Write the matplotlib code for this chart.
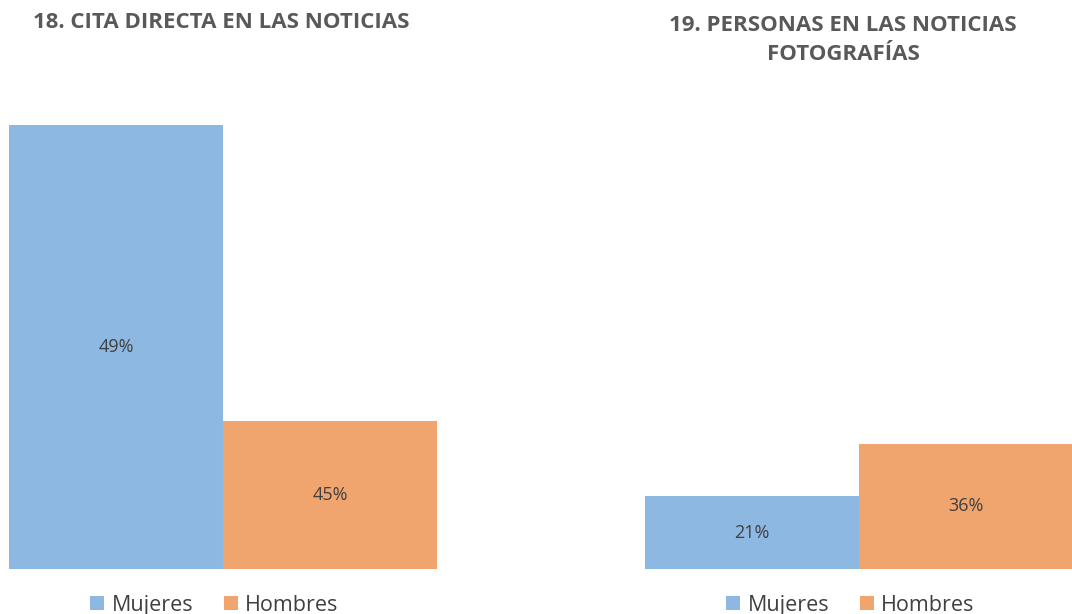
import matplotlib.pyplot as plt

plt.rcParams['font.family'] = ['Open Sans', 'DejaVu Sans']

series = ['Mujeres', 'Hombres']
colors = ['#8db8e2', '#f0a46e']

cita_values = [49, 45]
cita_labels = ['49%', '45%']
fotos_values = [21, 36]
fotos_labels = ['21%', '36%']

titles = ['18. CITA DIRECTA EN LAS NOTICIAS', '19. PERSONAS EN LAS NOTICIAS\nFOTOGRAFÍAS']

W, H = 1072, 614
fig = plt.figure(figsize=(W / 100, H / 100), dpi=100)

# axes placed in pixel coordinates to follow the reference layout
def add_axes(x0, x1, y_top, y_bottom):
    return fig.add_axes([x0 / W, (H - y_bottom) / H, (x1 - x0) / W, (y_bottom - y_top) / H])

ax1 = add_axes(9, 437, 88, 569)
ax2 = add_axes(645, 1073, 88, 569)

panels = [
    (ax1, cita_values, cita_labels, (43, 49.5)),
    (ax2, fotos_values, fotos_labels, (0, 138.5)),
]

for ax, vals, labs, ylim in panels:
    base = ylim[0]
    for i, (v, c, name) in enumerate(zip(vals, colors, series)):
        ax.bar(i, v - base, bottom=base, width=1.0, color=c, label=name)
        ax.text(i, base + (v - base) / 2, labs[i], ha='center', va='center',
                fontsize=13, color='#404040')
    ax.set_xlim(-0.5, 1.5)
    ax.set_ylim(*ylim)
    ax.axis('off')
    ax.legend(loc='center', bbox_to_anchor=(0.48, -0.075), ncol=2, frameon=False,
              fontsize=15.5, handlelength=0.65, handleheight=0.65, handletextpad=0.35,
              columnspacing=1.4, labelcolor='#404040', borderpad=0)

fig.text(221 / W, 1 - 23 / H, titles[0], ha='center', va='center',
         fontsize=16, fontweight='bold', color='#595959')
fig.text(843 / W, 1 - 40 / H, titles[1], ha='center', va='center',
         fontsize=16, fontweight='bold', color='#595959', linespacing=1.55)

fig.savefig('out.png', dpi=100)
